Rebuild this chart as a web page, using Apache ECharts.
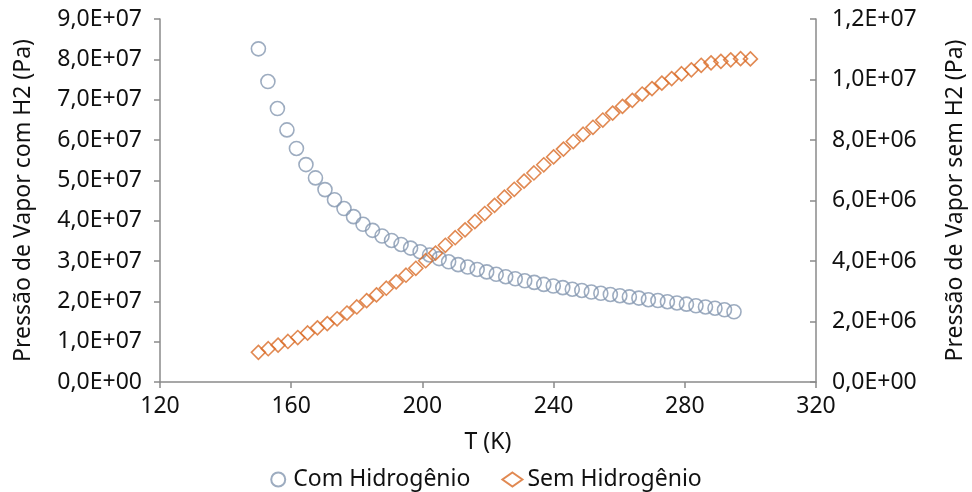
<!DOCTYPE html>
<html>
<head>
<meta charset="utf-8">
<script src="https://cdn.jsdelivr.net/npm/echarts@6/dist/echarts.min.js"></script>
<style>
html,body{margin:0;padding:0;background:#fff;}
#chart{width:972px;height:492px;}
</style>
</head>
<body>
<div id="chart"></div>
<script>
// Temperatures (K)
const tempCom = [150, 152.9, 155.8, 158.7, 161.6, 164.5, 167.4, 170.3, 173.2, 176.1, 179, 181.9, 184.8, 187.7, 190.6, 193.5, 196.4, 199.3, 202.2, 205.1, 208, 210.9, 213.8, 216.7, 219.6, 222.5, 225.4, 228.3, 231.2, 234.1, 237, 239.9, 242.8, 245.7, 248.6, 251.5, 254.4, 257.3, 260.2, 263.1, 266, 268.9, 271.8, 274.7, 277.6, 280.5, 283.4, 286.3, 289.2, 292.1, 295];
const tempSem = [150, 153, 156, 159, 162, 165, 168, 171, 174, 177, 180, 183, 186, 189, 192, 195, 198, 201, 204, 207, 210, 213, 216, 219, 222, 225, 228, 231, 234, 237, 240, 243, 246, 249, 252, 255, 258, 261, 264, 267, 270, 273, 276, 279, 282, 285, 288, 291, 294, 297, 300];

// Vapour pressure with H2 (Pa) - left axis
const pressCom = [8.26e7, 7.45e7, 6.78e7, 6.25e7, 5.79e7, 5.39e7, 5.06e7, 4.77e7, 4.52e7, 4.30e7, 4.10e7, 3.91e7, 3.76e7, 3.62e7, 3.51e7, 3.41e7, 3.32e7, 3.23e7, 3.15e7, 3.06e7, 2.98e7, 2.91e7, 2.85e7, 2.79e7, 2.73e7, 2.67e7, 2.61e7, 2.56e7, 2.51e7, 2.47e7, 2.42e7, 2.38e7, 2.34e7, 2.30e7, 2.27e7, 2.23e7, 2.20e7, 2.17e7, 2.14e7, 2.11e7, 2.08e7, 2.04e7, 2.02e7, 1.99e7, 1.96e7, 1.93e7, 1.89e7, 1.86e7, 1.83e7, 1.79e7, 1.74e7];
// Vapour pressure without H2 (Pa) - right axis
const pressSem = [0.98e6, 1.10e6, 1.22e6, 1.34e6, 1.47e6, 1.62e6, 1.79e6, 1.93e6, 2.09e6, 2.28e6, 2.48e6, 2.69e6, 2.88e6, 3.10e6, 3.31e6, 3.53e6, 3.76e6, 4.01e6, 4.26e6, 4.52e6, 4.77e6, 5.03e6, 5.30e6, 5.57e6, 5.84e6, 6.11e6, 6.37e6, 6.64e6, 6.91e6, 7.18e6, 7.44e6, 7.70e6, 7.95e6, 8.19e6, 8.42e6, 8.66e6, 8.89e6, 9.11e6, 9.31e6, 9.52e6, 9.70e6, 9.88e6, 10.03e6, 10.19e6, 10.32e6, 10.47e6, 10.55e6, 10.60e6, 10.65e6, 10.69e6, 10.68e6];

// Axis ranges / tick steps
const xRange = [120, 320, 40];
const yLeftRange = [0, 9e7, 1e7];
const yRightRange = [0, 1.2e7, 2e6];

const seriesNames = ['Com Hidrogênio', 'Sem Hidrogênio'];
const axisNames = ['T (K)', 'Pressão de Vapor com H2 (Pa)', 'Pressão de Vapor sem H2 (Pa)'];

function sci(v) {
  if (v === 0) return '0,0E+00';
  let e = Math.floor(Math.log10(v) + 1e-9);
  let m = v / Math.pow(10, e);
  return m.toFixed(1).replace('.', ',') + 'E+' + (e < 10 ? '0' + e : e);
}

const FONT = '"Noto Sans", "Open Sans", sans-serif';
const TXT = '#111111';
const AX = '#8a8a8a';
const FS = 23;

const chart = echarts.init(document.getElementById('chart'), null, {renderer: 'canvas'});
chart.setOption({
  animation: false,
  backgroundColor: '#ffffff',
  textStyle: {fontFamily: FONT},
  grid: {left: 160, right: 156, top: 19, bottom: 110, containLabel: false, outerBoundsMode: 'none'},
  legend: {
    bottom: -4, left: 'center',
    itemWidth: 20, itemHeight: 14, itemGap: 31,
    textStyle: {fontFamily: FONT, fontSize: FS, color: TXT},
    data: seriesNames
  },
  xAxis: {
    type: 'value', min: xRange[0], max: xRange[1], interval: xRange[2],
    name: axisNames[0], nameLocation: 'middle', nameGap: 49,
    nameTextStyle: {fontFamily: FONT, fontSize: FS, color: TXT},
    axisLine: {show: true, onZero: false, lineStyle: {color: AX, width: 1.5}},
    axisTick: {show: true, length: 6, lineStyle: {color: AX, width: 1.5}},
    axisLabel: {fontFamily: FONT, fontSize: FS, color: TXT, margin: 13},
    splitLine: {show: false}
  },
  yAxis: [{
    type: 'value', position: 'left', min: yLeftRange[0], max: yLeftRange[1], interval: yLeftRange[2],
    name: axisNames[1], nameLocation: 'middle', nameGap: 125, nameRotate: 90,
    nameTextStyle: {fontFamily: FONT, fontSize: FS, color: TXT},
    axisLine: {show: true, lineStyle: {color: AX, width: 1.5}},
    axisTick: {show: true, length: 6, lineStyle: {color: AX, width: 1.5}},
    axisLabel: {fontFamily: FONT, fontSize: FS, color: TXT, margin: 18, formatter: sci},
    splitLine: {show: false}
  }, {
    type: 'value', position: 'right', min: yRightRange[0], max: yRightRange[1], interval: yRightRange[2],
    name: axisNames[2], nameLocation: 'middle', nameGap: 128, nameRotate: 90,
    nameTextStyle: {fontFamily: FONT, fontSize: FS, color: TXT},
    axisLine: {show: true, lineStyle: {color: AX, width: 1.5}},
    axisTick: {show: true, inside: true, length: 6, lineStyle: {color: AX, width: 1.5}},
    axisLabel: {fontFamily: FONT, fontSize: FS, color: TXT, margin: 16, formatter: sci},
    splitLine: {show: false}
  }],
  series: [{
    name: seriesNames[0], type: 'scatter', yAxisIndex: 0,
    symbol: 'circle', symbolSize: 14,
    itemStyle: {color: 'rgba(255,255,255,0)', borderColor: '#8497B0', borderWidth: 1.6},
    data: tempCom.map((t, i) => [t, pressCom[i]])
  }, {
    name: seriesNames[1], type: 'scatter', yAxisIndex: 1,
    symbol: 'diamond', symbolSize: 14,
    itemStyle: {color: 'rgba(255,255,255,0)', borderColor: '#DA6B27', borderWidth: 1.6},
    data: tempSem.map((t, i) => [t, pressSem[i]])
  }]
});
</script>
</body>
</html>
